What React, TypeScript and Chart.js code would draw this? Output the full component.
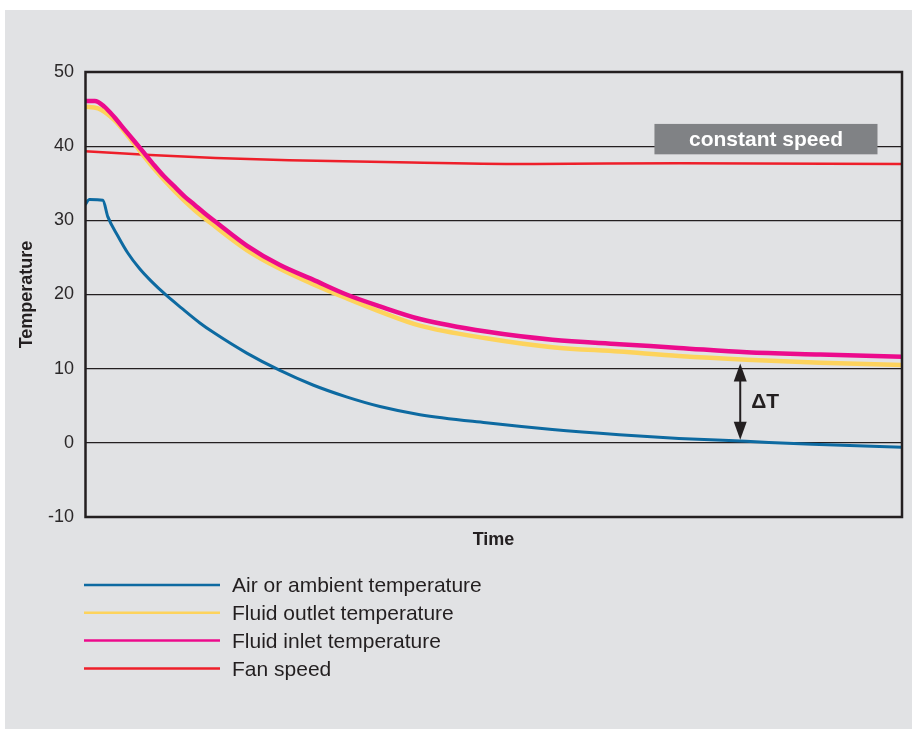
import { useEffect, useRef } from "react";
import { Chart, registerables } from "chart.js";

Chart.register(...registerables);

// Time (percent of span) and values
const airTime = [0, 0.55, 2.18, 2.79, 4.02, 5.24, 6.67, 8.1, 9.94, 11.78, 14.02, 15.7, 19.8, 23.8, 27.9, 32.0, 36.1, 41.0, 49.1, 57.2, 65.4, 72.7, 80.9, 89.0, 100];
const airTemp = [32.1, 32.8, 32.7, 30.5, 27.9, 25.6, 23.5, 21.8, 19.9, 18.2, 16.2, 14.9, 12.1, 9.8, 7.8, 6.2, 4.9, 3.8, 2.7, 1.8, 1.1, 0.6, 0.2, -0.2, -0.6];

const outletTime = [0, 1.6, 3.6, 6.1, 8.5, 11.0, 13.4, 15.9, 19.8, 23.8, 27.9, 32.0, 36.1, 41.0, 49.1, 57.2, 65.4, 72.7, 81.0, 90.0, 100];
const outletTemp = [45.3, 45.1, 43.5, 40.2, 36.9, 33.9, 31.4, 29.2, 26.0, 23.5, 21.4, 19.5, 17.7, 15.8, 14.1, 12.9, 12.3, 11.7, 11.2, 10.8, 10.5];

const inletTime = [0, 1.2, 2.4, 3.6, 4.8, 6.1, 7.3, 8.5, 9.7, 11.0, 12.2, 13.4, 14.6, 16.1, 19.8, 23.8, 27.9, 32.0, 36.1, 41.0, 49.1, 57.2, 65.4, 72.7, 81.0, 90.0, 100];
const inletTemp = [46.1, 46.1, 45.3, 43.9, 42.3, 40.6, 39.0, 37.4, 35.9, 34.5, 33.2, 32.1, 31.0, 29.7, 26.6, 24.0, 22.0, 20.0, 18.4, 16.7, 15.0, 13.9, 13.3, 12.8, 12.2, 11.9, 11.6];

const fanTime = [0, 8, 16, 25, 40, 55, 72.7, 100];
const fanValue = [39.3, 38.8, 38.4, 38.1, 37.8, 37.6, 37.7, 37.6];

const seriesLabels = [
  "Air or ambient temperature",
  "Fluid outlet temperature",
  "Fluid inlet temperature",
  "Fan speed",
];
const seriesColors = ["#0d6aa1", "#fdd35c", "#ec0b8c", "#ee1f2a"];
const seriesWidths = [3, 4.5, 4.5, 2.5];

const yTickValues = [-10, 0, 10, 20, 30, 40, 50];

const boxLabel = "constant speed";
const boxRange = { t0: 69.7, t1: 97.0, v0: 38.9, v1: 43.0 };
const deltaLabel = "ΔT";
const deltaArrow = { t: 80.2, top: 10.7, bottom: 0.4 };

const xTitle = "Time";
const yTitle = "Temperature";

const FONT = "'Liberation Sans', Arial, Helvetica, sans-serif";
const INK = "#231f20";

function pts(t: number[], v: number[]) {
  return t.map((x, i) => ({ x, y: v[i] }));
}

const decorPlugin = {
  id: "decor",
  beforeDraw(chart: any) {
    const ctx = chart.ctx;
    ctx.save();
    ctx.fillStyle = "#ffffff";
    ctx.fillRect(0, 0, chart.width, chart.height);
    ctx.fillStyle = "#e1e2e4";
    ctx.fillRect(5, 10, 907, 719);
    ctx.restore();
  },
  afterDatasetsDraw(chart: any) {
    const ctx = chart.ctx;
    const ca = chart.chartArea;
    const xs = chart.scales.x;
    const ys = chart.scales.y;
    ctx.save();
    // border
    ctx.strokeStyle = INK;
    ctx.lineWidth = 2.5;
    ctx.strokeRect(ca.left + 0.5, ca.top, ca.right - ca.left - 0.5, ca.bottom - ca.top);

    // constant speed box
    const bx0 = xs.getPixelForValue(boxRange.t0);
    const bx1 = xs.getPixelForValue(boxRange.t1);
    const by0 = ys.getPixelForValue(boxRange.v1);
    const by1 = ys.getPixelForValue(boxRange.v0);
    ctx.fillStyle = "#808285";
    ctx.fillRect(bx0, by0, bx1 - bx0, by1 - by0);
    ctx.fillStyle = "#ffffff";
    ctx.font = `bold 21px ${FONT}`;
    ctx.textAlign = "center";
    ctx.textBaseline = "middle";
    ctx.fillText(boxLabel, (bx0 + bx1) / 2, (by0 + by1) / 2 + 1);

    // delta T arrow
    const ax = xs.getPixelForValue(deltaArrow.t);
    const ay0 = ys.getPixelForValue(deltaArrow.top);
    const ay1 = ys.getPixelForValue(deltaArrow.bottom);
    ctx.strokeStyle = INK;
    ctx.fillStyle = INK;
    ctx.lineWidth = 2;
    ctx.beginPath();
    ctx.moveTo(ax, ay0 + 10);
    ctx.lineTo(ax, ay1 - 10);
    ctx.stroke();
    ctx.beginPath();
    ctx.moveTo(ax, ay0);
    ctx.lineTo(ax - 6.5, ay0 + 18);
    ctx.lineTo(ax + 6.5, ay0 + 18);
    ctx.closePath();
    ctx.fill();
    ctx.beginPath();
    ctx.moveTo(ax, ay1);
    ctx.lineTo(ax - 6.5, ay1 - 18);
    ctx.lineTo(ax + 6.5, ay1 - 18);
    ctx.closePath();
    ctx.fill();
    ctx.font = `bold 21px ${FONT}`;
    ctx.textAlign = "left";
    ctx.textBaseline = "middle";
    ctx.fillText(deltaLabel, ax + 11, (ay0 + ay1) / 2 + 1);

    // axis titles
    ctx.font = `bold 18px ${FONT}`;
    ctx.textAlign = "center";
    ctx.textBaseline = "middle";
    ctx.fillText(xTitle, (ca.left + ca.right) / 2, ca.bottom + 23);
    ctx.save();
    ctx.translate(27.5, (ca.top + ca.bottom) / 2);
    ctx.rotate(-Math.PI / 2);
    ctx.fillText(yTitle, 0, 0);
    ctx.restore();

    // legend
    const ly0 = 585;
    const lstep = 27.8;
    ctx.font = `21px ${FONT}`;
    ctx.textAlign = "left";
    ctx.textBaseline = "middle";
    seriesLabels.forEach((lab, i) => {
      const y = ly0 + i * lstep;
      ctx.strokeStyle = seriesColors[i];
      ctx.lineWidth = 2.5;
      ctx.beginPath();
      ctx.moveTo(84, y);
      ctx.lineTo(220, y);
      ctx.stroke();
      ctx.fillStyle = INK;
      ctx.fillText(lab, 232, y + 1.5);
    });
    ctx.restore();
  },
};

export default function App() {
  const ref = useRef<HTMLCanvasElement | null>(null);

  useEffect(() => {
    document.body.style.margin = "0";
    const canvas = ref.current;
    if (!canvas) return;
    const allData = [
      pts(airTime, airTemp),
      pts(outletTime, outletTemp),
      pts(inletTime, inletTemp),
      pts(fanTime, fanValue),
    ];
    const drawOrder = [0, 2, 1, 3];
    const chart = new Chart(canvas, {
      type: "line",
      data: {
        datasets: allData.map((d, i) => ({
          label: seriesLabels[i],
          data: d,
          borderColor: seriesColors[i],
          backgroundColor: seriesColors[i],
          borderWidth: seriesWidths[i],
          pointRadius: 0,
          fill: false,
          cubicInterpolationMode: "monotone" as const,
          order: drawOrder[i],
        })),
      },
      options: {
        animation: false,
        responsive: false,
        devicePixelRatio: 1,
        layout: { padding: { top: 72, right: 14, left: 0, bottom: 0 } },
        plugins: { legend: { display: false }, tooltip: { enabled: false } },
        scales: {
          x: {
            type: "linear",
            min: 0,
            max: 100,
            ticks: { display: false },
            grid: { display: false },
            border: { display: false },
            afterFit: (s: any) => {
              s.height = 212;
            },
          },
          y: {
            type: "linear",
            min: -10,
            max: 50,
            afterBuildTicks: (s: any) => {
              s.ticks = yTickValues.map((v) => ({ value: v }));
            },
            ticks: {
              padding: 11,
              color: "#2b2829",
              font: { size: 18, family: FONT },
            },
            grid: { color: INK, lineWidth: 1.2, drawTicks: false },
            border: { display: false },
            afterFit: (s: any) => {
              s.width = 85;
            },
          },
        },
      },
      plugins: [decorPlugin],
    });
    return () => chart.destroy();
  }, []);

  return (
    <div style={{ width: 916, height: 729, position: "relative" }}>
      <canvas ref={ref} width={916} height={729} style={{ display: "block" }} />
    </div>
  );
}
